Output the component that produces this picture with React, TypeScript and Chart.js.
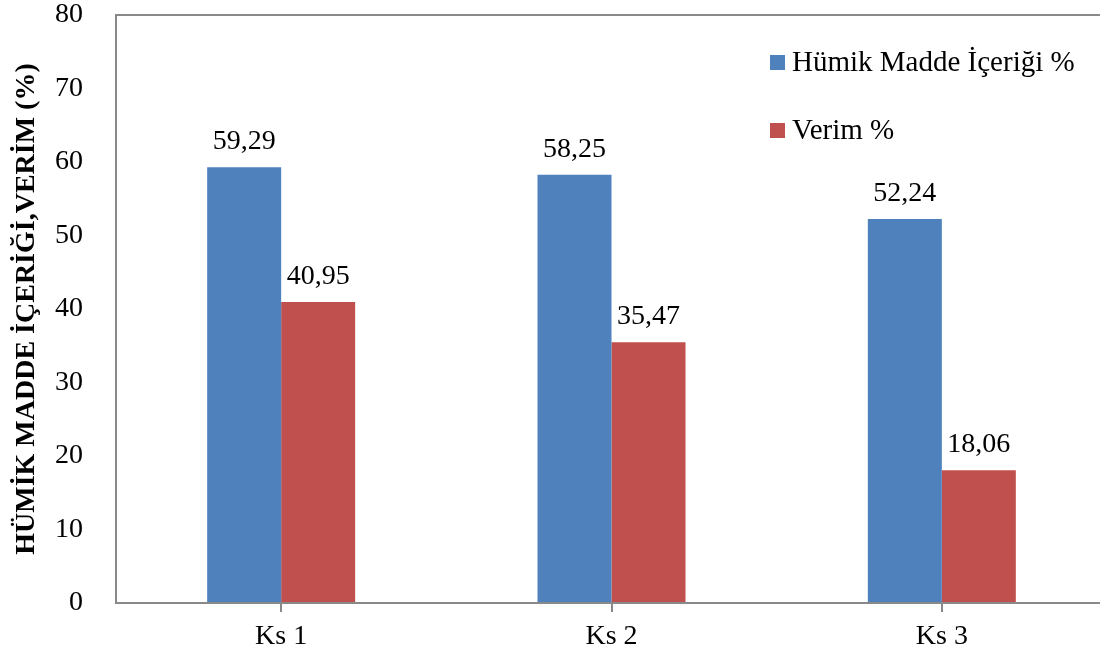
import React, { useEffect, useRef } from "react";
import { Chart, registerables } from "chart.js";

Chart.register(...registerables);

const categories = ["Ks 1", "Ks 2", "Ks 3"];
const humikValues = [59.29, 58.25, 52.24];
const verimValues = [40.95, 35.47, 18.06];
const seriesNames = ["Hümik Madde İçeriği %", "Verim %"];
const yTitle = "HÜMİK MADDE İÇERİĞİ,VERİM (%)";

const BLUE = "#4F81BD";
const RED = "#C0504D";
const AXIS = "#898989";
const FONT = "'Liberation Serif', 'Times New Roman', serif";

export default function App() {
  const ref = useRef<HTMLCanvasElement | null>(null);

  useEffect(() => {
    document.body.style.margin = "0";
    const canvas = ref.current!;

    const frame = {
      id: "frame",
      afterDraw(chart: any) {
        const { ctx, chartArea } = chart;
        ctx.save();
        ctx.strokeStyle = AXIS;
        ctx.lineWidth = 2;
        ctx.strokeRect(chartArea.left, chartArea.top, chartArea.right - chartArea.left, chartArea.bottom - chartArea.top);
        ctx.restore();
      },
    };

    const labels = {
      id: "valueLabels",
      afterDatasetsDraw(chart: any) {
        const { ctx } = chart;
        ctx.save();
        ctx.font = `28px ${FONT}`;
        ctx.fillStyle = "#000";
        ctx.textAlign = "center";
        ctx.textBaseline = "alphabetic";
        chart.data.datasets.forEach((ds: any, i: number) => {
          const meta = chart.getDatasetMeta(i);
          meta.data.forEach((bar: any, j: number) => {
            const v = ds.data[j] as number;
            ctx.fillText(v.toFixed(2).replace(".", ","), bar.x, bar.y - 18);
          });
        });
        ctx.restore();
      },
    };

    const legend = {
      id: "customLegend",
      afterDraw(chart: any) {
        const { ctx, chartArea } = chart;
        ctx.save();
        ctx.font = `29px ${FONT}`;
        ctx.textBaseline = "middle";
        ctx.textAlign = "left";
        const x = chartArea.left + 654;
        const ys = [chartArea.top + 47, chartArea.top + 115];
        chart.data.datasets.forEach((ds: any, i: number) => {
          ctx.fillStyle = ds.backgroundColor;
          ctx.fillRect(x, ys[i] - 7, 15, 15);
          ctx.fillStyle = "#000";
          ctx.fillText(ds.label, x + 22, ys[i] + 1);
        });
        ctx.restore();
      },
    };

    const chart = new Chart(canvas, {
      type: "bar",
      data: {
        labels: categories,
        datasets: [
          { label: seriesNames[0], data: humikValues, backgroundColor: BLUE, borderWidth: 0 },
          { label: seriesNames[1], data: verimValues, backgroundColor: RED, borderWidth: 0 },
        ],
      },
      options: {
        animation: false,
        responsive: false,
        maintainAspectRatio: false,
        layout: { padding: { top: 15, right: 0, left: 0, bottom: 0 } },
        datasets: { bar: { barPercentage: 1, categoryPercentage: 0.448 } },
        plugins: { legend: { display: false }, tooltip: { enabled: false } },
        scales: {
          x: {
            grid: { display: true, drawOnChartArea: false, offset: false, color: AXIS, lineWidth: 2, tickLength: 9 },
            border: { display: true, color: AXIS, width: 2 },
            ticks: { color: "#000", font: { family: FONT, size: 28 }, padding: 8 },
            afterFit(scale: any) {
              scale.height = 53;
              scale.paddingLeft = 0;
              scale.paddingRight = 0;
            },
          },
          y: {
            min: 0,
            max: 80,
            ticks: { stepSize: 10, color: "#000", font: { family: FONT, size: 28 }, padding: 25 },
            grid: { display: false },
            border: { display: true, color: AXIS, width: 2 },
            title: { display: true, text: yTitle, color: "#000", font: { family: FONT, size: 28, weight: "bold" }, padding: { top: 10, bottom: 0 } },
            afterFit(scale: any) {
              scale.width = 116;
              scale.paddingTop = 0;
              scale.paddingBottom = 0;
            },
          },
        },
      },
      plugins: [frame, labels, legend],
    });
    return () => chart.destroy();
  }, []);

  return (
    <div style={{ width: 1100, height: 656, overflow: "hidden", position: "relative", background: "#fff" }}>
      <canvas ref={ref} width={1107} height={656} style={{ display: "block", width: 1107, height: 656 }} />
    </div>
  );
}
